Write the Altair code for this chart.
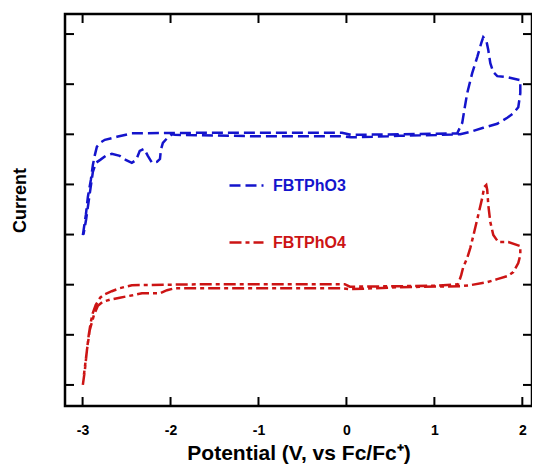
import altair as alt
import pandas as pd

# ---- data ----
series_names = ["FBTPhO3", "FBTPhO4"]
series_colors = ["#1414cc", "#cc1414"]

blue_v = [-2.997, -2.963, -2.94, -2.906, -2.883, -2.86, -2.838, -2.80, -2.747, -2.61,
          -2.44, -1.6, -0.8, -0.05, 0.05, 0.6, 1.0, 1.26, 1.317, 1.34,
          1.373, 1.43, 1.487, 1.533, 1.556, 1.59, 1.613, 1.636, 1.67, 1.715,
          1.829, 1.977, 1.977, 1.954, 1.897, 1.829, 1.715, 1.556, 1.408, 1.294,
          0.6, 0.05, -0.07, -1.0, -1.95, -1.984, -2.04, -2.087, -2.11, -2.12,
          -2.155, -2.21, -2.258, -2.30, -2.35, -2.39, -2.44, -2.51, -2.577, -2.668,
          -2.737, -2.80, -2.85, -2.883, -2.92, -2.96, -2.99]
blue_i = [2.99, 3.39, 3.75, 4.09, 4.39, 4.59, 4.75, 4.83, 4.89, 4.95,
          5.02, 5.03, 5.03, 5.03, 4.99, 5.0, 5.01, 5.02, 5.23, 5.48,
          5.82, 6.22, 6.54, 6.82, 6.94, 6.88, 6.68, 6.42, 6.24, 6.16,
          6.14, 6.08, 5.82, 5.54, 5.42, 5.33, 5.21, 5.13, 5.05, 5.0,
          4.97, 4.94, 4.96, 4.96, 4.99, 5.0, 4.92, 4.83, 4.69, 4.51,
          4.45, 4.43, 4.57, 4.71, 4.67, 4.49, 4.43, 4.49, 4.57, 4.61,
          4.57, 4.49, 4.43, 4.25, 3.8, 3.3, 3.0]

red_v = [-2.997, -2.974, -2.95, -2.93, -2.906, -2.883, -2.85, -2.80, -2.747, -2.668,
         -2.577, -2.44, -1.6, -0.8, -0.02, 0.04, 0.6, 1.0, 1.27, 1.305,
         1.328, 1.373, 1.408, 1.453, 1.499, 1.544, 1.567, 1.59, 1.601, 1.613,
         1.636, 1.67, 1.727, 1.84, 1.977, 1.977, 1.954, 1.897, 1.829, 1.715,
         1.601, 1.408, 1.294, 0.6, 0.04, -0.07, -1.0, -1.95, -2.04, -2.12,
         -2.325, -2.43, -2.577, -2.69, -2.77, -2.826, -2.87, -2.918, -2.95, -2.985]
red_i = [0.0, 0.30, 0.70, 1.0, 1.26, 1.44, 1.6, 1.74, 1.81, 1.87,
         1.93, 1.99, 2.01, 2.01, 2.01, 1.96, 1.97, 1.98, 2.01, 2.19,
         2.35, 2.53, 2.73, 3.05, 3.39, 3.73, 3.95, 3.99, 3.89, 3.59,
         3.25, 2.99, 2.85, 2.85, 2.77, 2.59, 2.43, 2.25, 2.17, 2.11,
         2.05, 1.99, 1.97, 1.95, 1.91, 1.93, 1.93, 1.93, 1.89, 1.83,
         1.83, 1.79, 1.74, 1.70, 1.66, 1.58, 1.40, 1.10, 0.70, 0.2]

x_ticks = [-3, -2, -1, 0, 1, 2]
y_ticks = [0, 1, 2, 3, 4, 5, 6, 7]

# ---- build tables ----
rows = []
for k, (vs, cs) in enumerate([(blue_v, blue_i), (red_v, red_i)]):
    for n, (v, c) in enumerate(zip(vs, cs)):
        rows.append({"v": v, "i": c, "series": series_names[k], "idx": n})
df = pd.DataFrame(rows)
xt = pd.DataFrame({"v": x_ticks})
yt = pd.DataFrame({"i": y_ticks})
frame_df = pd.DataFrame({"k": [0]})

FONT = "Liberation Sans"
W, H = 467, 392
xscale = alt.Scale(domain=[-3.2, 2.11], nice=False, zero=False)
yscale = alt.Scale(domain=[-0.42, 7.4], nice=False, zero=False)

xaxis = alt.Axis(values=x_ticks, ticks=False, domain=False, grid=False,
                 labelExpr="'' + datum.value",
                 labelFont=FONT, labelFontSize=14, labelFontWeight="bold", labelColor="black",
                 labelPadding=17, title="Potential (V, vs Fc/Fc\u207a)", titleFont=FONT,
                 titleFontSize=21, titleFontWeight="bold", titleColor="black", titlePadding=5)
yaxis = alt.Axis(values=y_ticks, ticks=False, domain=False, grid=False, labels=False,
                 title="Current", titleFont=FONT, titleFontSize=18, titleFontWeight="bold",
                 titleColor="black", titleAngle=270, titleAlign="center", titleBaseline="bottom",
                 titleX=-36, titleY=186)

legend = alt.Legend(orient="none", legendX=163, legendY=153, title=None,
                    symbolType="stroke", symbolSize=1156, symbolStrokeWidth=2.5,
                    labelFont=FONT, labelFontSize=16, labelFontWeight="bold",
                    labelColor={"expr": "datum.label == 'FBTPhO3' ? '#1414cc' : '#cc1414'"},
                    labelOffset=8, rowPadding=30, padding=0)

lines = alt.Chart(df).mark_line(strokeWidth=2.5, strokeCap="butt").encode(
    x=alt.X("v:Q", scale=xscale, axis=xaxis),
    y=alt.Y("i:Q", scale=yscale, axis=yaxis),
    color=alt.Color("series:N", scale=alt.Scale(domain=series_names, range=series_colors),
                    legend=legend),
    strokeDash=alt.StrokeDash("series:N",
                              scale=alt.Scale(domain=series_names, range=[[11, 5], [12, 4, 4, 4]]),
                              legend=legend),
    order="idx:Q",
)

tick_style = dict(color="black", strokeWidth=2)
bottom_ticks = alt.Chart(xt).mark_rule(**tick_style).encode(
    x=alt.X("v:Q", scale=xscale, axis=xaxis), y=alt.value(H), y2=alt.value(H - 9))
top_ticks = alt.Chart(xt).mark_rule(**tick_style).encode(
    x=alt.X("v:Q", scale=xscale, axis=xaxis), y=alt.value(0), y2=alt.value(9))
left_ticks = alt.Chart(yt).mark_rule(**tick_style).encode(
    y=alt.Y("i:Q", scale=yscale, axis=yaxis), x=alt.value(0), x2=alt.value(9))
right_ticks = alt.Chart(yt).mark_rule(**tick_style).encode(
    y=alt.Y("i:Q", scale=yscale, axis=yaxis), x=alt.value(W), x2=alt.value(W - 9))

frame = alt.Chart(frame_df).mark_rect(fillOpacity=0, stroke="black", strokeWidth=2.5).encode(
    x=alt.value(0), x2=alt.value(W), y=alt.value(0), y2=alt.value(H))

chart = alt.layer(lines, bottom_ticks, top_ticks, left_ticks, right_ticks, frame).properties(
    width=W, height=H,
    autosize=alt.AutoSizeParams(type="none"),
    padding={"left": 57, "top": 6, "right": 0, "bottom": 62},
).configure_view(stroke=None).configure(background="white")

chart.save("out.html", embed_options={"renderer": "svg", "actions": False})
